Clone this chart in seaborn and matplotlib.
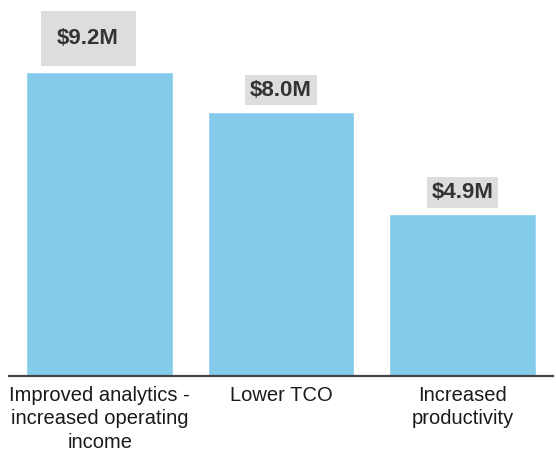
import matplotlib
matplotlib.use("Agg")
import matplotlib.pyplot as plt
import seaborn as sns

categories = [
    "Improved analytics -\nincreased operating\nincome",
    "Lower TCO",
    "Increased\nproductivity",
]
values = [9.2, 8.0, 4.9]
value_labels = ["$9.2M", "$8.0M", "$4.9M"]

sns.set_style("white")
plt.rcParams["font.family"] = ["Liberation Sans", "DejaVu Sans"]

fig = plt.figure(figsize=(5.56, 4.5), dpi=100)
ax = fig.add_axes([9 / 556, 74 / 450, 544 / 556, 366 / 450])

sns.barplot(x=categories, y=values, color="#84cbeb", saturation=1, width=0.81, ax=ax)

ax.set_xlim(-0.5, 2.5)
ax.set_ylim(0, 366 / 33)

# value boxes above the bars (first one is bigger and shifted a bit left)
for i, (v, lab) in enumerate(zip(values, value_labels)):
    if i == 0:
        off, pad = (-11.5, 34), 0.75
    else:
        off, pad = (0, 22), 0.22
    ax.annotate(
        lab, xy=(i, v), xytext=off, textcoords="offset pixels",
        ha="center", va="center", fontsize=16, fontweight="bold", color="#333333",
        bbox=dict(boxstyle=f"square,pad={pad}", facecolor="#dddddd", edgecolor="none"),
    )

for s in ["top", "right", "left"]:
    ax.spines[s].set_visible(False)
ax.spines["bottom"].set_color("#444444")
ax.spines["bottom"].set_linewidth(1.6)

ax.set_yticks([])
ax.tick_params(axis="x", length=0, pad=7, labelsize=14.5, labelcolor="#1a1a1a")
for t in ax.get_xticklabels():
    t.set_linespacing(1.3)

fig.savefig("out.png", dpi=100)
